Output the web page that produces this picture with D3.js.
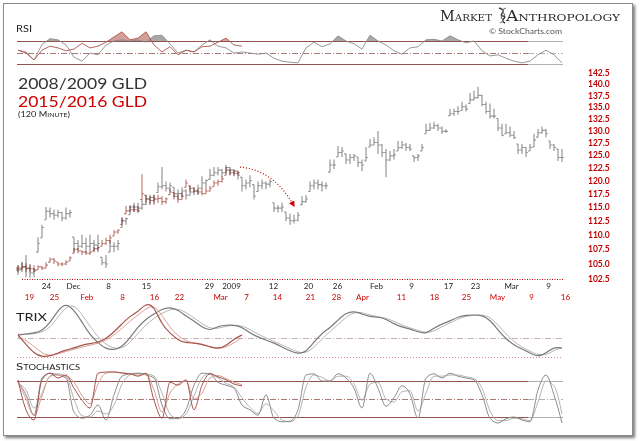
<!DOCTYPE html>
<html><head><meta charset="utf-8">
<script src="https://cdn.jsdelivr.net/npm/d3@7"></script>
<style>
html,body{margin:0;padding:0;background:#fff;}
svg{display:block;}
</style></head><body>
<svg id="c" width="640" height="441"></svg>
<script>
// ---------- DATA ----------
// 2008/2009 GLD, 120-minute bars (resampled)
const grayHigh = [104.8,105.3,106.5,104.8,104.3,109.6,111.8,115.0,114.9,114.5,
 114.5,114.1,114.9,114.5,109.6,109.1,110.0,109.5,110.0,109.1,
 110.0,106.1,106.5,109.1,108.7,109.1,113.1,113.1,115.4,115.8,
 115.8,116.4,117.3,117.3,117.3,119.6,122.6,119.8,119.6,118.7,
 118.3,118.7,118.3,119.0,118.7,119.2,120.8,120.2,122.2,122.6,
 122.6,122.2,123.0,122.6,122.2,121.8,120.6,120.2,121.0,119.2,
 119.8,120.2,119.8,120.2,115.8,115.4,115.8,114.1,113.8,113.6,
 114.1,117.0,117.2,119.8,120.2,120.2,119.8,119.6,124.1,124.1,
 126.8,126.6,125.2,125.2,125.2,124.6,124.1,126.6,128.2,128.6,
 129.9,127.2,126.2,125.8,126.2,127.8,127.8,127.4,127.2,124.8,
 125.2,127.2,131.4,131.6,131.8,131.4,130.8,130.3,134.6,134.6,
 135.1,136.1,135.5,138.0,138.5,139.4,137.6,136.1,135.7,134.6,
 132.5,131.4,131.4,130.8,129.9,127.2,127.2,126.6,127.2,129.3,
 130.3,130.8,130.3,127.8,127.2,126.2,126.2];
const grayLow = [103.2,103.6,102.8,102.7,102.8,107.0,109.5,112.7,113.1,112.7,
 113.1,112.4,112.7,113.1,107.0,107.3,107.7,107.0,107.3,107.0,
 107.0,104.8,104.3,107.0,107.0,107.3,111.3,111.8,113.6,114.1,
 114.0,114.5,115.4,115.4,115.8,117.7,118.3,117.9,117.9,116.8,
 116.4,116.8,116.4,117.2,117.2,117.3,118.3,118.7,120.2,120.8,
 121.0,120.6,121.4,121.0,120.8,120.2,117.9,118.3,118.7,116.4,
 117.9,118.3,118.3,118.7,114.1,114.0,114.1,112.4,111.8,112.0,
 112.4,115.4,115.8,117.9,118.3,118.3,117.9,118.3,121.6,122.2,
 124.6,124.6,123.2,123.2,123.8,122.6,121.8,123.8,126.6,127.0,
 125.2,124.6,120.6,123.8,124.1,125.8,126.2,125.8,125.8,123.6,
 123.8,125.8,129.3,129.9,130.3,129.9,129.3,129.5,133.1,133.1,
 133.3,134.2,134.0,135.7,136.4,136.8,135.1,133.5,132.5,132.5,
 129.9,128.8,129.3,128.6,128.2,125.2,125.2,124.6,125.8,126.6,
 128.6,129.3,128.6,126.2,125.8,123.8,123.6];
const grayClose = [104.0,104.5,104.2,103.5,103.8,108.5,111.3,114.2,113.8,113.5,
 114.0,113.0,113.8,114.0,108.5,108.0,108.5,108.0,108.5,108.2,
 108.5,105.2,105.0,108.0,108.0,108.5,112.5,112.9,115.0,115.0,
 114.8,115.5,116.5,116.8,116.5,118.8,119.0,118.5,119.0,117.5,
 117.5,118.0,117.2,117.8,118.0,118.5,119.5,120.0,121.0,121.5,
 122.0,121.5,122.5,122.0,121.8,121.0,119.0,119.5,120.0,117.0,
 119.0,119.5,119.3,119.8,114.8,114.8,115.0,113.0,112.5,112.6,
 113.5,116.0,116.5,119.0,119.5,119.2,119.0,119.0,123.0,123.0,
 125.5,125.8,124.0,124.5,124.8,123.5,123.0,124.5,127.0,127.5,
 127.0,125.5,124.0,124.8,125.0,126.5,127.0,126.5,126.2,124.5,
 124.8,126.5,130.0,130.5,131.0,130.5,129.8,129.8,133.5,134.0,
 134.0,135.0,134.5,136.5,137.0,137.5,135.5,134.0,133.0,133.0,
 130.5,129.0,129.5,129.0,128.5,126.0,126.5,125.5,126.5,128.0,
 129.5,130.0,129.3,127.0,126.5,124.5,124.5];

// 2015/2016 GLD, 120-minute bars (resampled)
const redHigh = [104.8,105.3,105.1,105.0,104.8,104.8,104.6,105.3,106.1,106.0,
 105.3,105.3,105.6,106.3,107.7,107.7,107.3,107.2,107.3,107.9,
 108.0,109.1,109.5,110.0,110.8,111.0,113.1,115.2,115.2,115.4,
 115.2,121.2,117.2,117.0,117.3,117.3,117.0,116.8,118.3,117.7,
 117.3,117.7,120.2,119.0,118.7,118.3,118.3,118.7,119.0,120.0,
 120.2,120.8,122.6,122.2,122.0,121.8];
const redLow = [103.6,104.0,103.6,103.6,103.6,104.0,104.0,104.3,105.3,105.0,
 104.6,104.6,104.8,105.5,106.8,106.8,106.5,106.5,106.5,107.2,
 107.3,108.0,108.2,108.5,109.8,110.2,111.8,113.8,114.1,114.1,
 114.0,116.4,115.8,115.6,115.4,115.8,115.4,115.6,117.3,116.4,
 115.8,116.4,118.7,117.9,117.7,117.3,117.2,117.5,117.9,118.8,
 119.0,119.6,121.0,121.0,121.0,121.0];
const redClose = [104.3,104.5,104.3,104.2,104.0,104.5,104.3,104.8,105.8,105.5,
 105.0,105.0,105.3,106.0,107.5,107.2,107.0,106.8,107.0,107.6,
 107.8,108.5,109.0,109.5,110.5,110.8,112.5,114.3,114.5,114.5,
 114.3,117.5,116.5,116.2,116.5,116.6,116.0,116.5,117.8,117.0,
 116.4,117.0,119.5,118.5,118.0,117.8,117.5,118.0,118.5,119.5,
 119.8,120.3,122.0,121.5,121.4,121.5];

// Indicators (one value every 2 bars)
const rsiGray = [54,51,37,64,74,72,63,42,35,49,
 46,63,70,72,70,72,68,79,80,65,
 49,54,51,63,72,61,58,49,51,49,
 47,49,40,35,33,32,58,68,60,65,
 79,70,65,56,80,70,63,53,47,58,
 60,72,73,70,79,72,67,70,53,44,
 46,40,35,32,35,46,54,46,32];
const rsiRed = [54,49,37,54,61,58,53,56,66,58,61,68,77,86,72,75,86,63,51,60,46,54,51,60,61,68,75,63,61];

const trixGray = [1.6,2.1,2.6,3.7,7.9,14.7,18.4,14.7,8.4,1.6,
 -2.6,-5.8,-6.3,-4.7,0,5.8,10.0,12.6,15.3,16.3,
 14.7,11.6,8.9,5.8,3.7,6.3,6.8,6.8,5.8,2.6,
 0.5,-1.1,-2.6,-4.7,-6.8,-8.4,-7.4,-2.1,2.6,5.3,
 9.5,13.2,14.2,12.6,11.1,11.1,10.0,7.4,5.8,4.7,
 3.2,2.1,5.3,7.4,8.9,11.1,12.1,12.1,12.1,9.5,
 4.2,-0.5,-3.7,-5.8,-7.9,-10.0,-7.9,-4.7,-5.3];
const trixGraySignal = [2.0,1.8,2.2,3.0,5.5,11.0,16.5,17.5,12.5,6.0,
 0.5,-3.5,-5.5,-5.5,-2.5,2.5,7.0,10.5,13.0,15.0,
 15.5,13.5,10.5,7.5,5.0,5.0,6.2,6.8,6.5,4.5,
 2.0,0,-1.8,-3.6,-5.6,-7.5,-8.0,-5.0,-0.5,3.5,
 7.0,11.0,13.5,13.5,12.0,11.2,10.5,8.8,6.8,5.3,
 4.0,2.6,3.5,6.0,8.0,10.0,11.5,12.0,12.3,11.0,
 7.0,2.0,-2.0,-4.8,-7.0,-9.0,-9.0,-6.5,-5.0];
const trixRed = [1.6,-3.5,-8.0,-10.0,-9.5,-7.9,-6.3,-5.3,-3.7,-3.0,
 -2.3,-0.5,3.2,7.4,11.6,13.7,18.4,16.8,6.8,2.6,
 -1.1,-2.6,-2.6,-3.2,-4.7,-5.8,-4.2,-0.5,1.6];
const trixRedSignal = [0.5,-1.0,-4.5,-8.0,-9.5,-8.5,-7.0,-6.0,-4.8,-3.8,
 -2.8,-1.2,1.5,5.0,9.0,12.0,15.5,17.5,12.0,5.5,
 1.0,-1.5,-2.8,-3.5,-4.5,-5.5,-5.0,-2.5,0];

const stochGray = [78,57,23,85,93,90,85,28,18,23,
 40,15,57,88,92,93,90,85,40,17,
 18,32,73,93,92,78,73,68,40,32,
 23,57,18,12,13,32,90,92,80,80,
 92,85,68,35,93,68,38,52,72,58,
 18,85,92,85,93,88,85,82,57,18,
 10,17,20,15,12,65,90,57,10];
const stochGraySlow = [75,65,35,60,88,92,88,50,22,20,
 30,25,40,75,90,93,92,88,60,25,
 17,25,55,85,93,85,76,70,52,36,
 26,42,30,15,12,22,70,90,86,80,
 88,88,75,48,75,78,50,45,62,64,
 30,60,88,88,90,90,87,84,68,30,
 14,14,18,17,14,45,80,72,25];
const stochRed = [82,32,15,82,93,85,90,68,48,35,93,95,95,93,92,88,93,48,18,78,73,82,32,73,92,87,82,75,72];
const stochRedSlow = [80,50,22,55,88,90,88,78,56,42,75,93,95,94,92,90,91,65,28,60,75,80,50,60,85,89,84,78,74];

// Axis labels (positions in bar index units)
const blackTickLabels = ["24","Dec","8","15","29","2009","12","20","26","Feb","9","17","23","Mar","9"];
const blackTickIdx = [7,13.75,22.5,32,47.75,53.25,63.75,72.5,79.75,89.5,98.25,107.5,114.25,123.25,132.5];
const redTickLabels = ["19","25","Feb","8","16","22","Mar","7","14","21","28","Apr","11","18","25","May","9","16"];
const redTickIdx = [2.75,9,17.1,26,34,40.25,50.5,57,64.75,73,79.5,86,95.75,104,112,119.75,128.25,136.75];
const priceTicks = [102.5,105,107.5,110,112.5,115,117.5,120,122.5,125,127.5,130,132.5,135,137.5,140,142.5];

// ---------- DRAWING ----------
const svg = d3.select("#c");
const defs = svg.append("defs");
defs.append("filter").attr("id","blur").append("feGaussianBlur").attr("stdDeviation",1.6);
defs.append("marker").attr("id","arr").attr("viewBox","0 0 10 10").attr("refX",8).attr("refY",5)
  .attr("markerWidth",5).attr("markerHeight",5).attr("orient","auto")
  .append("path").attr("d","M0,0L10,5L0,10z").attr("fill","#d40000");

// frame with shadow
svg.append("rect").attr("x",5).attr("y",5).attr("width",630).attr("height",433).attr("fill","#777").attr("filter","url(#blur)");
svg.append("rect").attr("x",3.5).attr("y",3.5).attr("width",629).attr("height",432).attr("fill","#fff").attr("stroke","#8a8a8a");

const FONT = "Lato, 'Noto Sans', sans-serif";
const x = d3.scaleLinear().domain([0,136]).range([18,562]);
const xi = (d,i)=>x(2*i);
const yP = d3.scaleLog().domain([102.5,142.5]).range([279,73]);
const yRSI = d3.scaleLinear().domain([30,70]).range([64,41]);
const yTRIX = d3.scaleLinear().domain([-10,0]).range([357,338]);
const yST = d3.scaleLinear().domain([0,100]).range([429,369]);

const BROWN = "#93524d", LGRAY = "#b0b0b0";
function hline(y, x1, x2, color, dash, w){
  const yy = Math.round(y)+0.5;
  svg.append("line").attr("x1",x1).attr("x2",x2).attr("y1",yy).attr("y2",yy)
    .attr("stroke",color).attr("stroke-width",w||1).attr("stroke-dasharray",dash||null);
}

// ---- Header ----
const logo = svg.append("g").attr("font-family","'DejaVu Serif', serif").attr("fill","#2a2a2a");
logo.append("text").attr("x",440).attr("y",21).attr("font-size",14).style("font-variant","small-caps")
  .attr("textLength",52).attr("lengthAdjust","spacingAndGlyphs").text("Market");
logo.append("text").attr("x",506).attr("y",21).attr("font-size",14).style("font-variant","small-caps")
  .attr("textLength",114).attr("lengthAdjust","spacingAndGlyphs").text("Anthropology");
logo.append("path").attr("d","M499,8 C509,11 497,15 503,16 C509,17 498,20 505,23").attr("fill","none").attr("stroke","#333").attr("stroke-width",1.4);
logo.append("path").attr("d","M506,8 C497,11 509,15 503,16 C497,17 508,20 500,23").attr("fill","none").attr("stroke","#777").attr("stroke-width",1.2);
svg.append("text").attr("x",489).attr("y",34).attr("font-size",7.5).attr("font-family",FONT).attr("fill","#555")
  .attr("textLength",73).attr("lengthAdjust","spacingAndGlyphs").text("© StockCharts.com");

// ---- RSI panel ----
svg.append("text").attr("x",16).attr("y",32).attr("font-size",9).attr("font-family",FONT).attr("fill","#222")
  .attr("textLength",16).attr("lengthAdjust","spacingAndGlyphs").text("RSI");
[70,30].forEach(v=>{ hline(yRSI(v),17,528,BROWN,null,1); hline(yRSI(v),528,563,LGRAY,null,1); });
hline(yRSI(50),17,528,"#a77a76","6,2,1,2",1); hline(yRSI(50),528,563,LGRAY,"6,2,1,2",1);
defs.append("clipPath").attr("id","rsiTop").append("rect").attr("x",0).attr("y",0).attr("width",640).attr("height",yRSI(70));
const rsiArea = d3.area().x(xi).y0(yRSI(70)).y1(d=>yRSI(d));
svg.append("path").datum(rsiGray).attr("d",rsiArea).attr("fill","#a8a8a8").attr("clip-path","url(#rsiTop)");
svg.append("path").datum(rsiRed).attr("d",rsiArea).attr("fill","#c98f8a").attr("opacity",0.85).attr("clip-path","url(#rsiTop)");
const rsiLine = d3.line().x(xi).y(d=>yRSI(d));
svg.append("path").datum(rsiGray).attr("d",rsiLine).attr("fill","none").attr("stroke","#8c8c8c").attr("stroke-width",0.9);
svg.append("path").datum(rsiRed).attr("d",rsiLine).attr("fill","none").attr("stroke","#b0544c").attr("stroke-width",0.9);

// ---- Main price panel ----
svg.append("text").attr("x",18).attr("y",89).attr("font-size",15).attr("font-family",FONT).attr("fill","#333")
  .attr("textLength",129).attr("lengthAdjust","spacingAndGlyphs").text("2008/2009 GLD");
svg.append("text").attr("x",18).attr("y",107).attr("font-size",15).attr("font-family",FONT).attr("fill","#cc0000")
  .attr("textLength",129).attr("lengthAdjust","spacingAndGlyphs").text("2015/2016 GLD");
svg.append("text").attr("x",18).attr("y",117).attr("font-size",8).attr("font-family",FONT).attr("fill","#222")
  .style("font-variant","small-caps").attr("textLength",52).attr("lengthAdjust","spacingAndGlyphs").text("(120 Minute)");

hline(yP(102.5),22,563,"#cc0000","1,1.5",1);

function drawBars(hi, lo, cl, color, blend){
  const g = svg.append("g").attr("stroke",color).attr("stroke-width",1.1);
  if (blend) g.style("mix-blend-mode","multiply");
  g.selectAll("line.hl").data(hi).join("line").attr("class","hl")
    .attr("x1",(d,i)=>x(i)).attr("x2",(d,i)=>x(i)).attr("y1",d=>yP(d)).attr("y2",(d,i)=>yP(lo[i]));
  g.selectAll("line.cl").data(cl).join("line").attr("class","cl")
    .attr("x1",(d,i)=>x(i)).attr("x2",(d,i)=>x(i)+1.8).attr("y1",d=>yP(d)).attr("y2",d=>yP(d));
  g.selectAll("line.op").data(cl).join("line").attr("class","op")
    .attr("x1",(d,i)=>x(i)-1.8).attr("x2",(d,i)=>x(i))
    .attr("y1",(d,i)=>yP(Math.max(lo[i],Math.min(hi[i], i>0?cl[i-1]:d))))
    .attr("y2",(d,i)=>yP(Math.max(lo[i],Math.min(hi[i], i>0?cl[i-1]:d))));
}
drawBars(grayHigh, grayLow, grayClose, "#8c8c8c", false);
drawBars(redHigh, redLow, redClose, "#b9716a", true);

// dotted red arrow
svg.append("path").attr("d",`M${x(55.5)},${yP(122.6)} Q${x(64)},${yP(122)} ${x(69)},${yP(115.2)}`)
  .attr("fill","none").attr("stroke","#d40000").attr("stroke-width",1.2).attr("stroke-dasharray","1,2")
  .attr("marker-end","url(#arr)");

// right price axis
const axR = d3.axisRight(yP).tickValues(priceTicks).tickFormat(d3.format(".1f")).tickSize(0).tickPadding(0);
svg.append("g").attr("transform","translate(588,0)").call(axR)
  .call(g=>g.select(".domain").remove())
  .call(g=>g.selectAll("text").attr("fill","#c00000").attr("font-size",8.5).attr("font-weight","bold").attr("font-family",FONT));

// bottom date axes
const axB = d3.axisBottom(x).tickValues(blackTickIdx).tickFormat((d,i)=>blackTickLabels[i]).tickSize(0).tickPadding(0);
svg.append("g").attr("transform","translate(0,283)").call(axB)
  .call(g=>g.select(".domain").remove())
  .call(g=>g.selectAll("text").attr("fill","#222").attr("font-size",8).attr("font-family",FONT));
const axR2 = d3.axisBottom(x).tickValues(redTickIdx).tickFormat((d,i)=>redTickLabels[i]).tickSize(0).tickPadding(0);
svg.append("g").attr("transform","translate(0,294)").call(axR2)
  .call(g=>g.select(".domain").remove())
  .call(g=>g.selectAll("text").attr("fill","#cc0000").attr("font-size",8).attr("font-family",FONT));

// ---- TRIX panel ----
svg.append("text").attr("x",16).attr("y",321).attr("font-size",10.5).attr("font-family",FONT).attr("fill","#222")
  .attr("textLength",31).attr("lengthAdjust","spacingAndGlyphs").text("TRIX");
hline(yTRIX(0),17,563,"#c9b3b1","6,2,1,2",1);
hline(yTRIX(-10),17,563,"#d98a86","1,2",1);
const trixLine = d3.line().x(xi).y(d=>yTRIX(d)).curve(d3.curveBasis);
svg.append("path").datum(trixGraySignal).attr("d",trixLine).attr("fill","none").attr("stroke","#b8b8b8").attr("stroke-width",1);
svg.append("path").datum(trixGray).attr("d",trixLine).attr("fill","none").attr("stroke","#7a7a7a").attr("stroke-width",1.2);
svg.append("path").datum(trixRedSignal).attr("d",trixLine).attr("fill","none").attr("stroke","#d9a39e").attr("stroke-width",1);
svg.append("path").datum(trixRed).attr("d",trixLine).attr("fill","none").attr("stroke","#a9524a").attr("stroke-width",1.2);

// ---- Stochastics panel ----
svg.append("text").attr("x",16).attr("y",370).attr("font-size",10).attr("font-family",FONT).attr("fill","#222")
  .style("font-variant","small-caps").attr("textLength",64).attr("lengthAdjust","spacingAndGlyphs").text("Stochastics");
[80,20].forEach(v=>{ hline(yST(v),17,528,BROWN,null,1); hline(yST(v),528,563,LGRAY,null,1); });
hline(yST(50),17,528,"#a77a76","6,2,1,2",1); hline(yST(50),528,563,LGRAY,"6,2,1,2",1);
const stLine = d3.line().x(xi).y(d=>yST(d)).curve(d3.curveMonotoneX);
svg.append("path").datum(stochGraySlow).attr("d",stLine).attr("fill","none").attr("stroke","#b5b5b5").attr("stroke-width",1);
svg.append("path").datum(stochGray).attr("d",stLine).attr("fill","none").attr("stroke","#8e8e8e").attr("stroke-width",1);
svg.append("path").datum(stochRedSlow).attr("d",stLine).attr("fill","none").attr("stroke","#d4a09b").attr("stroke-width",1);
svg.append("path").datum(stochRed).attr("d",stLine).attr("fill","none").attr("stroke","#a9524a").attr("stroke-width",1);
</script>
</body></html>
